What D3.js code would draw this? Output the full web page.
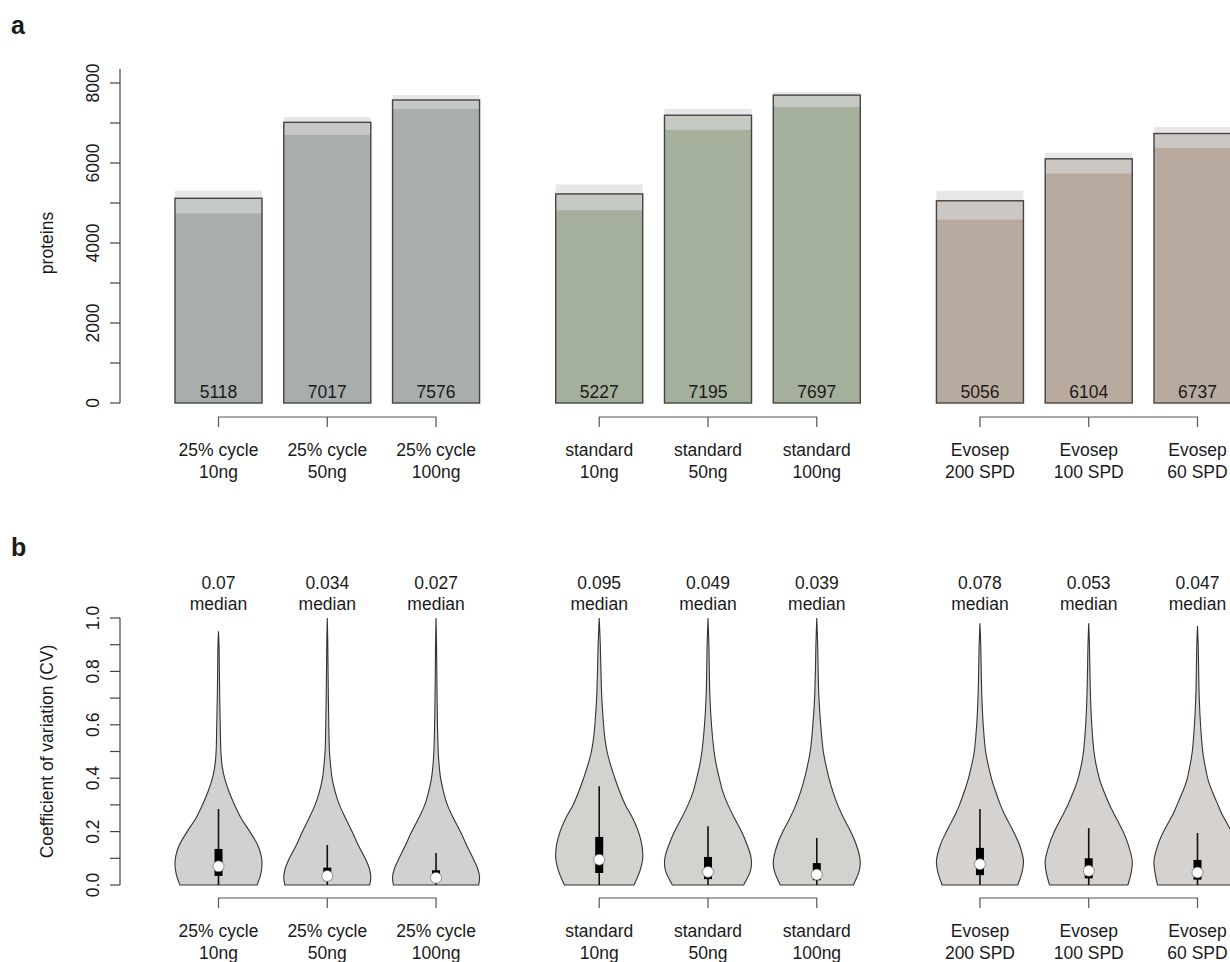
<!DOCTYPE html>
<html>
<head>
    <title>Proteins and CV</title>
    <script src="https://d3js.org/d3.v7.min.js"></script>
    <style>
        body { margin: 0; background: white; }
        text
        {
            font-family: "Liberation Sans", Arial, sans-serif;
            font-size: 17.5px;
            fill: #1a1a1a;
        }
        .panel
        {
            font-size: 25px;
            font-weight: bold;
        }
        .axis line, .axis path { stroke: #444; }
        .bracket { fill: none; stroke: #555; stroke-width: 1.2; }
    </style>
</head>
<body>
    <script>
        // categories
        var labelTop = ["25% cycle", "25% cycle", "25% cycle", "standard", "standard", "standard", "Evosep", "Evosep", "Evosep"];
        var labelBottom = ["10ng", "50ng", "100ng", "10ng", "50ng", "100ng", "200 SPD", "100 SPD", "60 SPD"];
        var positions = [1, 2, 3, 4.5, 5.5, 6.5, 8, 9, 10];
        var groupOf = [0, 0, 0, 1, 1, 1, 2, 2, 2];

        // panel a: protein counts with min/max band
        var proteins = [5118, 7017, 7576, 5227, 7195, 7697, 5056, 6104, 6737];
        var bandHigh = [5313, 7150, 7700, 5462, 7349, 7771, 5303, 6256, 6902];
        var bandLow = [4742, 6703, 7350, 4816, 6827, 7398, 4583, 5735, 6380];

        // panel b: CV summary
        var cvMedian = [0.07, 0.034, 0.027, 0.095, 0.049, 0.039, 0.078, 0.053, 0.047];
        var cvQ1 = [0.034, 0.018, 0.015, 0.045, 0.022, 0.018, 0.037, 0.025, 0.02];
        var cvQ3 = [0.135, 0.065, 0.055, 0.18, 0.105, 0.082, 0.139, 0.1, 0.094];
        var cvWhisker = [0.285, 0.15, 0.12, 0.37, 0.22, 0.176, 0.285, 0.213, 0.195];

        // violin outlines: [cv, relative half width]
        var violinShapes = [
            [[0,0.885],[0.04,0.97],[0.08,1],[0.11,0.98],[0.15,0.9],[0.2,0.72],[0.25,0.52],[0.3,0.37],[0.35,0.24],[0.4,0.14],[0.45,0.08],[0.5,0.055],[0.6,0.04],[0.7,0.028],[0.8,0.02],[0.9,0.012],[0.95,0]],
            [[0,0.975],[0.03,1],[0.06,0.97],[0.1,0.87],[0.15,0.71],[0.2,0.57],[0.25,0.42],[0.3,0.28],[0.35,0.18],[0.4,0.11],[0.45,0.075],[0.5,0.05],[0.6,0.035],[0.7,0.025],[0.8,0.018],[0.9,0.012],[1,0]],
            [[0,0.98],[0.03,1],[0.06,0.96],[0.1,0.85],[0.15,0.7],[0.2,0.56],[0.25,0.4],[0.3,0.26],[0.35,0.17],[0.4,0.105],[0.45,0.07],[0.5,0.05],[0.6,0.033],[0.7,0.024],[0.8,0.017],[0.9,0.011],[1,0]],
            [[0,0.8],[0.05,0.93],[0.1,1],[0.15,0.98],[0.2,0.9],[0.25,0.77],[0.3,0.6],[0.35,0.47],[0.4,0.36],[0.45,0.26],[0.5,0.18],[0.55,0.13],[0.6,0.1],[0.7,0.06],[0.8,0.04],[0.9,0.025],[1,0]],
            [[0,0.82],[0.05,0.97],[0.08,1],[0.11,0.98],[0.15,0.9],[0.2,0.77],[0.25,0.61],[0.3,0.46],[0.35,0.34],[0.4,0.26],[0.45,0.19],[0.5,0.14],[0.6,0.08],[0.7,0.045],[0.8,0.03],[0.9,0.02],[1,0]],
            [[0,0.84],[0.05,0.97],[0.08,1],[0.11,0.98],[0.15,0.91],[0.2,0.78],[0.25,0.62],[0.3,0.48],[0.35,0.37],[0.4,0.28],[0.45,0.21],[0.5,0.15],[0.6,0.09],[0.7,0.05],[0.8,0.032],[0.9,0.02],[1,0]],
            [[0,0.87],[0.05,0.97],[0.09,1],[0.15,0.91],[0.2,0.77],[0.27,0.55],[0.3,0.47],[0.35,0.36],[0.39,0.28],[0.45,0.19],[0.5,0.13],[0.6,0.075],[0.7,0.045],[0.8,0.03],[0.9,0.018],[0.98,0]],
            [[0,0.9],[0.05,0.98],[0.09,1],[0.15,0.91],[0.2,0.79],[0.27,0.57],[0.3,0.48],[0.35,0.35],[0.39,0.26],[0.45,0.17],[0.5,0.12],[0.6,0.07],[0.7,0.042],[0.8,0.028],[0.9,0.017],[0.98,0]],
            [[0,0.92],[0.05,0.98],[0.09,1],[0.15,0.91],[0.2,0.78],[0.27,0.55],[0.3,0.47],[0.35,0.34],[0.39,0.25],[0.45,0.17],[0.5,0.12],[0.6,0.07],[0.7,0.04],[0.8,0.027],[0.9,0.016],[0.97,0]]
        ];

        var barColors = ["#a7aeab", "#a4b09b", "#b9aa9f"];
        var violinColors = ["#d0d2d1", "#d1d3cf", "#d6d2cf"];

        var svg = d3.select("body").append("svg")
                    .attr("width", 1230).attr("height", 962);

        var x = d3.scaleLinear().domain([1, 10]).range([218.5, 1197.5]);
        var unit = x(2) - x(1);
        var halfW = unit * 0.4;

        svg.append("text").attr("class", "panel").attr("x", 11).attr("y", 34).text("a");
        svg.append("text").attr("class", "panel").attr("x", 11).attr("y", 556).text("b");

        // ---------- panel a ----------
        var yA = d3.scaleLinear().domain([0, 8000]).range([403, 83]);

        var axisA = svg.append("g").attr("class", "axis").attr("transform", "translate(120,0)");
        axisA.append("line").attr("x1", 0).attr("x2", 0)
             .attr("y1", yA(0)).attr("y2", yA(8350)).attr("stroke-width", 1.2);
        axisA.selectAll(".tk").data(d3.range(0, 8001, 1000)).enter().append("line")
             .attr("x1", 0).attr("x2", -10)
             .attr("y1", function(d){ return yA(d); }).attr("y2", function(d){ return yA(d); })
             .attr("stroke-width", 1.2);
        axisA.selectAll("text").data(d3.range(0, 8001, 2000)).enter().append("text")
             .attr("transform", function(d){ return "translate(-27," + yA(d) + ") rotate(-90)"; })
             .attr("text-anchor", "middle").attr("dominant-baseline", "central")
             .text(function(d){ return d; });
        svg.append("text")
           .attr("transform", "translate(47," + yA(4000) + ") rotate(-90)")
           .attr("text-anchor", "middle").attr("dominant-baseline", "central")
           .attr("font-size", "16px")
           .text("proteins");

        var bars = svg.append("g");
        bars.selectAll("rect").data(proteins).enter().append("rect")
            .attr("x", function(d, i){ return x(positions[i]) - halfW; })
            .attr("width", halfW * 2)
            .attr("y", function(d){ return yA(d); })
            .attr("height", function(d){ return yA(0) - yA(d); })
            .attr("fill", function(d, i){ return barColors[groupOf[i]]; });

        svg.append("g").selectAll("rect").data(bandHigh).enter().append("rect")
            .attr("x", function(d, i){ return x(positions[i]) - halfW; })
            .attr("width", halfW * 2)
            .attr("y", function(d){ return yA(d); })
            .attr("height", function(d, i){ return yA(bandLow[i]) - yA(d); })
            .attr("fill", "rgb(217,217,217)").attr("fill-opacity", 0.62);

        svg.append("g").selectAll("rect").data(proteins).enter().append("rect")
            .attr("x", function(d, i){ return x(positions[i]) - halfW; })
            .attr("width", halfW * 2)
            .attr("y", function(d){ return yA(d); })
            .attr("height", function(d){ return yA(0) - yA(d); })
            .attr("fill", "none").attr("stroke", "#444").attr("stroke-width", 1.4);

        svg.append("g").selectAll("text").data(proteins).enter().append("text")
            .attr("x", function(d, i){ return x(positions[i]); })
            .attr("y", 392)
            .attr("text-anchor", "middle").attr("dominant-baseline", "central")
            .text(function(d){ return d; });

        function drawCategories(lineY, labelY)
        {
            for (var g = 0; g < 3; g++)
            {
                var xs = positions.filter(function(p, i){ return groupOf[i] == g; }).map(x);
                var d = "M" + xs[0] + "," + (lineY + 10) + "V" + lineY + "H" + xs[2] + "V" + (lineY + 10)
                      + "M" + xs[1] + "," + lineY + "V" + (lineY + 10);
                svg.append("path").attr("class", "bracket").attr("d", d);
            }
            var lab = svg.append("g");
            lab.selectAll(".l1").data(labelTop).enter().append("text")
               .attr("x", function(d, i){ return x(positions[i]); })
               .attr("y", labelY)
               .attr("text-anchor", "middle").attr("dominant-baseline", "central")
               .text(function(d){ return d; });
            lab.selectAll(".l2").data(labelBottom).enter().append("text")
               .attr("x", function(d, i){ return x(positions[i]); })
               .attr("y", labelY + 21.5)
               .attr("text-anchor", "middle").attr("dominant-baseline", "central")
               .text(function(d){ return d; });
        }
        drawCategories(417, 450);

        // ---------- panel b ----------
        var yB = d3.scaleLinear().domain([0, 1]).range([885, 618]);

        var axisB = svg.append("g").attr("class", "axis").attr("transform", "translate(120,0)");
        axisB.append("line").attr("x1", 0).attr("x2", 0)
             .attr("y1", yB(0)).attr("y2", yB(1)).attr("stroke-width", 1.2);
        axisB.selectAll(".tk").data(d3.range(0, 11)).enter().append("line")
             .attr("x1", 0).attr("x2", -10)
             .attr("y1", function(d){ return yB(d / 10); }).attr("y2", function(d){ return yB(d / 10); })
             .attr("stroke-width", 1.2);
        axisB.selectAll("text").data([0, 0.2, 0.4, 0.6, 0.8, 1]).enter().append("text")
             .attr("transform", function(d){ return "translate(-27," + yB(d) + ") rotate(-90)"; })
             .attr("text-anchor", "middle").attr("dominant-baseline", "central")
             .text(function(d){ return d3.format(".1f")(d); });
        svg.append("text")
           .attr("transform", "translate(47," + yB(0.5) + ") rotate(-90)")
           .attr("text-anchor", "middle").attr("dominant-baseline", "central")
           .attr("font-size", "16px")
           .text("Coefficient of variation (CV)");

        var violins = svg.append("g");
        violinShapes.forEach(function(shape, i){
            var cx = x(positions[i]);
            var area = d3.area()
                .y(function(d){ return yB(d[0]); })
                .x0(function(d){ return cx - d[1] * halfW; })
                .x1(function(d){ return cx + d[1] * halfW; })
                .curve(d3.curveCatmullRom.alpha(0.5));
            violins.append("path").attr("d", area(shape))
                .attr("fill", violinColors[groupOf[i]])
                .attr("stroke", "#333").attr("stroke-width", 1.1);
            violins.append("line")
                .attr("x1", cx).attr("x2", cx)
                .attr("y1", yB(0)).attr("y2", yB(cvWhisker[i]))
                .attr("stroke", "#111").attr("stroke-width", 1.6);
            violins.append("rect")
                .attr("x", cx - 4).attr("width", 8)
                .attr("y", yB(cvQ3[i])).attr("height", yB(cvQ1[i]) - yB(cvQ3[i]))
                .attr("fill", "#000");
            violins.append("circle")
                .attr("cx", cx).attr("cy", yB(cvMedian[i])).attr("r", 5.5)
                .attr("fill", "white").attr("stroke", "#555").attr("stroke-width", 0.6);
        });

        var med = svg.append("g");
        med.selectAll(".v").data(cvMedian).enter().append("text")
           .attr("x", function(d, i){ return x(positions[i]); })
           .attr("y", 583)
           .attr("text-anchor", "middle").attr("dominant-baseline", "central")
           .text(function(d){ return d; });
        med.selectAll(".m").data(cvMedian).enter().append("text")
           .attr("x", function(d, i){ return x(positions[i]); })
           .attr("y", 604)
           .attr("text-anchor", "middle").attr("dominant-baseline", "central")
           .text("median");

        drawCategories(898, 931);
    </script>
</body>
</html>
